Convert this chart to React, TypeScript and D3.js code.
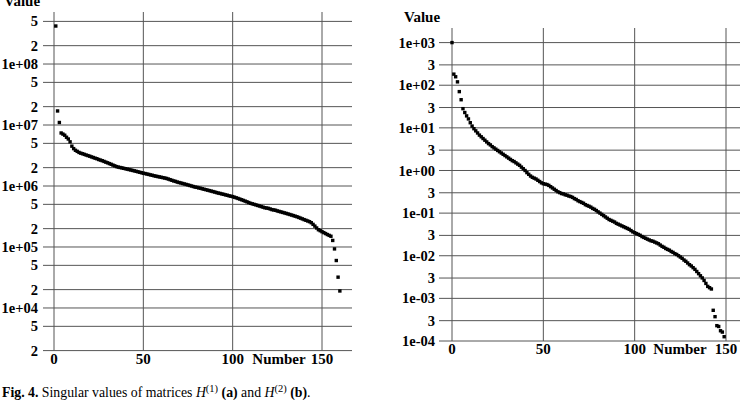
import React from "react";
import * as d3 from "d3";

// singular values, matrix H(1), numbered from 1
const valuesA = [
  4.2e8, 1.7e7, 1.1e7, 7.4e6, 7.1e6, 6.8e6, 6.3e6, 5.9e6, 5.3e6, 4.5e6,
  4.1e6, 3.85e6, 3.7e6, 3.55e6, 3.45e6, 3.38e6, 3.3e6, 3.22e6, 3.15e6, 3.08e6,
  3.0e6, 2.93e6, 2.86e6, 2.8e6, 2.72e6, 2.66e6, 2.6e6, 2.53e6, 2.46e6, 2.4e6,
  2.33e6, 2.27e6, 2.2e6, 2.14e6, 2.08e6, 2.04e6, 2.01e6, 1.98e6, 1.95e6, 1.92e6,
  1.89e6, 1.86e6, 1.83e6, 1.8e6, 1.77e6, 1.74e6, 1.71e6, 1.68e6, 1.65e6, 1.62e6,
  1.6e6, 1.57e6, 1.55e6, 1.52e6, 1.5e6, 1.47e6, 1.45e6, 1.43e6, 1.41e6, 1.39e6,
  1.37e6, 1.35e6, 1.33e6, 1.3e6, 1.27e6, 1.24e6, 1.21e6, 1.19e6, 1.16e6, 1.14e6,
  1.12e6, 1.1e6, 1.08e6, 1.06e6, 1.04e6, 1.02e6, 1.0e6, 9.8e5, 9.6e5, 9.5e5,
  9.3e5, 9.2e5, 9.0e5, 8.85e5, 8.7e5, 8.55e5, 8.4e5, 8.25e5, 8.1e5, 7.95e5,
  7.8e5, 7.65e5, 7.55e5, 7.4e5, 7.3e5, 7.15e5, 7.05e5, 6.9e5, 6.8e5, 6.7e5,
  6.55e5, 6.4e5, 6.25e5, 6.1e5, 5.95e5, 5.8e5, 5.65e5, 5.5e5, 5.35e5, 5.2e5,
  5.1e5, 5.0e5, 4.9e5, 4.8e5, 4.7e5, 4.6e5, 4.5e5, 4.4e5, 4.35e5, 4.3e5,
  4.2e5, 4.1e5, 4.05e5, 4.0e5, 3.9e5, 3.83e5, 3.76e5, 3.69e5, 3.62e5, 3.55e5,
  3.48e5, 3.41e5, 3.34e5, 3.27e5, 3.2e5, 3.13e5, 3.05e5, 2.97e5, 2.89e5, 2.81e5,
  2.74e5, 2.67e5, 2.6e5, 2.5e5, 2.35e5, 2.2e5, 2.05e5, 1.92e5, 1.85e5, 1.78e5,
  1.72e5, 1.66e5, 1.6e5, 1.55e5, 1.5e5, 1.28e5, 9.3e4, 6.0e4, 3.2e4, 1.9e4,
];

// singular values, matrix H(2), numbered from 0
const valuesB = [
  1000, 182, 158, 120, 70.8, 45.7, 28.2, 22.9, 19.1, 16.2,
  13.2, 11.0, 9.55, 8.51, 7.59, 6.76, 6.17, 5.62, 5.13, 4.68,
  4.27, 3.98, 3.63, 3.39, 3.16, 2.95, 2.75, 2.57, 2.4, 2.24,
  2.09, 1.95, 1.82, 1.7, 1.62, 1.51, 1.41, 1.32, 1.2, 1.1,
  1.0, 0.891, 0.813, 0.741, 0.692, 0.661, 0.631, 0.589, 0.55, 0.513,
  0.49, 0.479, 0.468, 0.447, 0.417, 0.389, 0.363, 0.339, 0.316, 0.302,
  0.288, 0.282, 0.269, 0.263, 0.251, 0.245, 0.234, 0.219, 0.209, 0.195,
  0.186, 0.178, 0.17, 0.158, 0.151, 0.145, 0.138, 0.129, 0.123, 0.115,
  0.107, 0.1, 0.0933, 0.0871, 0.0813, 0.0759, 0.0708, 0.0676, 0.0646, 0.0617,
  0.0575, 0.055, 0.0525, 0.0501, 0.0479, 0.0457, 0.0437, 0.0417, 0.0389, 0.0363,
  0.0347, 0.0331, 0.0316, 0.0302, 0.0282, 0.0269, 0.0257, 0.0245, 0.0234, 0.0224,
  0.0219, 0.0209, 0.02, 0.0191, 0.0178, 0.0166, 0.0158, 0.0148, 0.0141, 0.0135,
  0.0126, 0.012, 0.0112, 0.0107, 0.01, 0.00933, 0.00871, 0.00794, 0.00741, 0.00676,
  0.00617, 0.00575, 0.00525, 0.00479, 0.00427, 0.0038, 0.00339, 0.00302, 0.00263, 0.00224,
  0.00191, 0.00178, 0.00166, 0.000525, 0.000372, 0.000229, 0.000219, 0.000174, 0.000162, 0.000126,
];

const xTicks = [0, 50, 100, 150];
const yTicksA = [2e3, 5e3, 1e4, 2e4, 5e4, 1e5, 2e5, 5e5, 1e6, 2e6, 5e6, 1e7, 2e7, 5e7, 1e8, 2e8, 5e8];
const yTicksB = [1e-4, 3e-4, 1e-3, 3e-3, 1e-2, 3e-2, 1e-1, 3e-1, 1, 3, 10, 30, 100, 300, 1000];

const FONT = "'Liberation Serif', 'Times New Roman', serif";
const GRID = "#555";

// 1e+06 style for powers of ten, the leading digit otherwise
const fmt = (v: number) => {
  const e = Math.floor(Math.log10(v) + 1e-9);
  const m = Math.round(v / Math.pow(10, e));
  if (m !== 1) return String(m);
  const s = String(Math.abs(e)).padStart(2, "0");
  return `1e${e < 0 ? "-" : "+"}${s}`;
};

type PanelProps = {
  values: number[];
  first: number;
  yTicks: number[];
  x0: number; x150: number;
  yDomain: [number, number]; yRange: [number, number];
  gridLeft: number; gridRight: number; gridTop: number;
  labelRight: number;
  valueX: number; valueY: number;
  numberX: number;
};

const Panel = (p: PanelProps) => {
  const x = d3.scaleLinear().domain([0, 150]).range([p.x0, p.x150]);
  const y = d3.scaleLog().domain(p.yDomain).range(p.yRange);
  const bottom = p.yRange[0];
  return (
    <g fontFamily={FONT} fontWeight="bold">
      {p.yTicks.map((t) => (
        <g key={"y" + t}>
          <line x1={p.gridLeft} x2={p.gridRight} y1={y(t)} y2={y(t)} stroke={GRID} strokeWidth={1} />
          <text x={p.labelRight} y={y(t)} dy="0.35em" textAnchor="end" fontSize={14.5}>{fmt(t)}</text>
        </g>
      ))}
      {xTicks.map((t) => (
        <g key={"x" + t}>
          <line x1={x(t)} x2={x(t)} y1={p.gridTop} y2={bottom} stroke={GRID} strokeWidth={1} />
          <text x={x(t)} y={bottom + 13} textAnchor="middle" fontSize={15}>{t}</text>
        </g>
      ))}
      <text x={p.numberX} y={bottom + 13} textAnchor="middle" fontSize={15}>Number</text>
      <text x={p.valueX} y={p.valueY} textAnchor="middle" fontSize={15}>Value</text>
      {p.values.map((v, i) => (
        <rect key={i} x={x(i + p.first) - 1.7} y={y(v) - 1.7} width={3.4} height={3.4} fill="#000" />
      ))}
    </g>
  );
};

export default function App() {
  return (
    <svg width={745} height={400} style={{ position: "absolute", left: 0, top: 0, background: "#fff" }}>
      <Panel values={valuesA} first={1} yTicks={yTicksA}
        x0={54} x150={322} yDomain={[2e3, 5e8]} yRange={[350.6, 21.4]}
        gridLeft={43} gridRight={352} gridTop={12} labelRight={38}
        valueX={22} valueY={6} numberX={279} />
      <Panel values={valuesB} first={0} yTicks={yTicksB}
        x0={452} x150={726} yDomain={[1e-4, 1e3]} yRange={[341, 42.6]}
        gridLeft={439} gridRight={740} gridTop={28} labelRight={435}
        valueX={422} valueY={21.5} numberX={680} />
      <text x={2} y={397} fontFamily={FONT} fontSize={13.8}>
        <tspan fontWeight="bold">Fig. 4.</tspan>
        <tspan> Singular values of matrices </tspan>
        <tspan fontStyle="italic">H</tspan>
        <tspan dy={-5.5} fontSize={10.5}>(1)</tspan>
        <tspan dy={5.5} fontWeight="bold"> (a)</tspan>
        <tspan> and </tspan>
        <tspan fontStyle="italic">H</tspan>
        <tspan dy={-5.5} fontSize={10.5}>(2)</tspan>
        <tspan dy={5.5} fontWeight="bold"> (b)</tspan>
        <tspan>.</tspan>
      </text>
    </svg>
  );
}
